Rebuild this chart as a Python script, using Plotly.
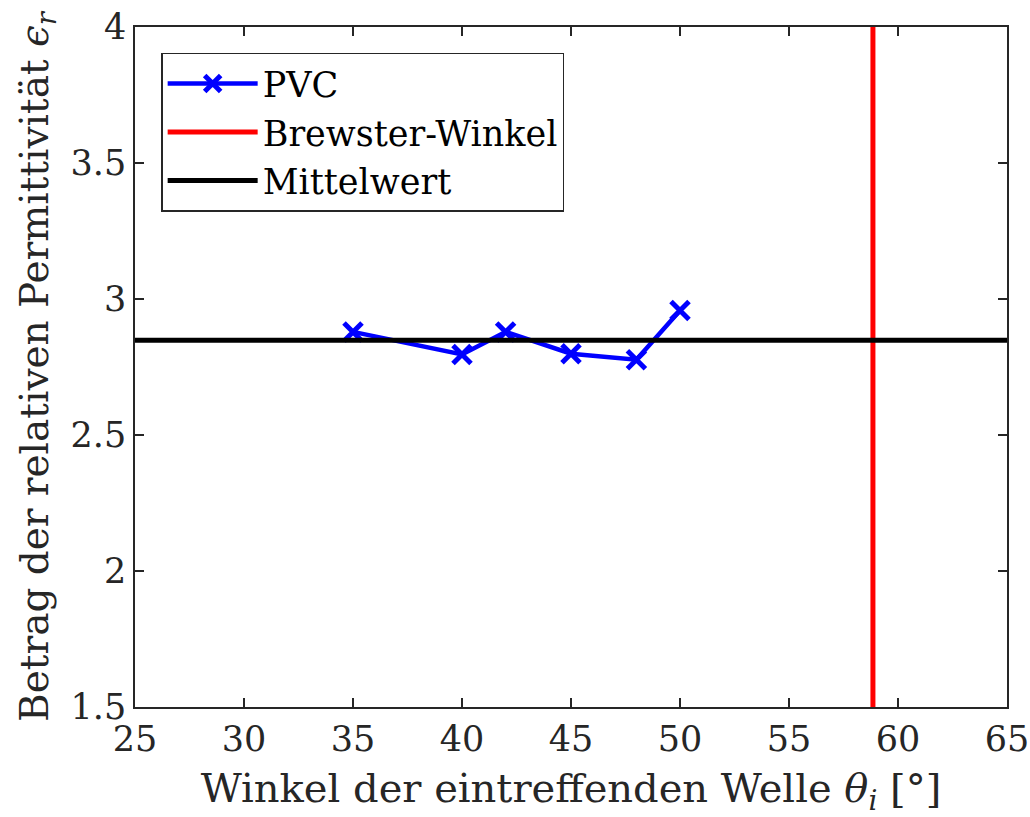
import plotly.graph_objects as go

# data
angles = [35, 40, 42, 45, 48, 50]
permittivity = [2.879, 2.796, 2.879, 2.799, 2.777, 2.958]
brewster_angle = 58.85
mean_value = 2.848
x_range = [25, 65]
y_range = [1.5, 4]
x_ticks = [25, 30, 35, 40, 45, 50, 55, 60, 65]
y_ticks = [1.5, 2, 2.5, 3, 3.5, 4]
y_tick_labels = ["1.5", "2", "2.5", "3", "3.5", "4"]

FONT = "DejaVu Serif"
AX = "#262626"

fig = go.Figure()
fig.add_trace(go.Scatter(
    x=angles, y=permittivity, mode="lines+markers", name="PVC",
    line=dict(color="#0000ff", width=4.5),
    marker=dict(symbol="x-thin", size=18, line=dict(color="#0000ff", width=5)),
))
fig.add_trace(go.Scatter(
    x=[brewster_angle, brewster_angle], y=y_range, mode="lines", name="Brewster-Winkel",
    line=dict(color="#ff0000", width=5),
))
fig.add_trace(go.Scatter(
    x=x_range, y=[mean_value, mean_value], mode="lines", name="Mittelwert",
    line=dict(color="#000000", width=5),
))

axis_common = dict(
    showgrid=False, zeroline=False, showline=True, linecolor=AX, linewidth=1.5,
    mirror="ticks", ticks="inside", ticklen=9, tickwidth=1.5, tickcolor=AX,
    tickfont=dict(family=FONT, size=35, color="#262626"), automargin=False,
)

fig.update_layout(
    width=1030, height=817,
    margin=dict(l=135, r=23, t=27, b=110),
    paper_bgcolor="white", plot_bgcolor="white",
    font=dict(family=FONT, color="#262626"),
    showlegend=True,
    legend=dict(
        x=0.03, y=0.962, xanchor="left", yanchor="top",
        bgcolor="white", bordercolor=AX, borderwidth=1.5,
        font=dict(family=FONT, size=35, color="#000000"),
        itemwidth=90, tracegroupgap=0,
    ),
    xaxis=dict(
        range=x_range, tickvals=x_ticks, **axis_common,
        title=dict(text="Winkel der eintreffenden Welle <i>θ<sub>i</sub></i> [°]",
                   font=dict(family=FONT, size=40, color="#262626"), standoff=16),
    ),
    yaxis=dict(
        range=y_range, tickvals=y_ticks, ticktext=y_tick_labels, **axis_common,
        title=dict(text="Betrag der relativen Permittivität <i>ϵ<sub>r</sub></i>",
                   font=dict(family=FONT, size=39, color="#262626"), standoff=10),
    ),
)

fig.write_html("out.html")
